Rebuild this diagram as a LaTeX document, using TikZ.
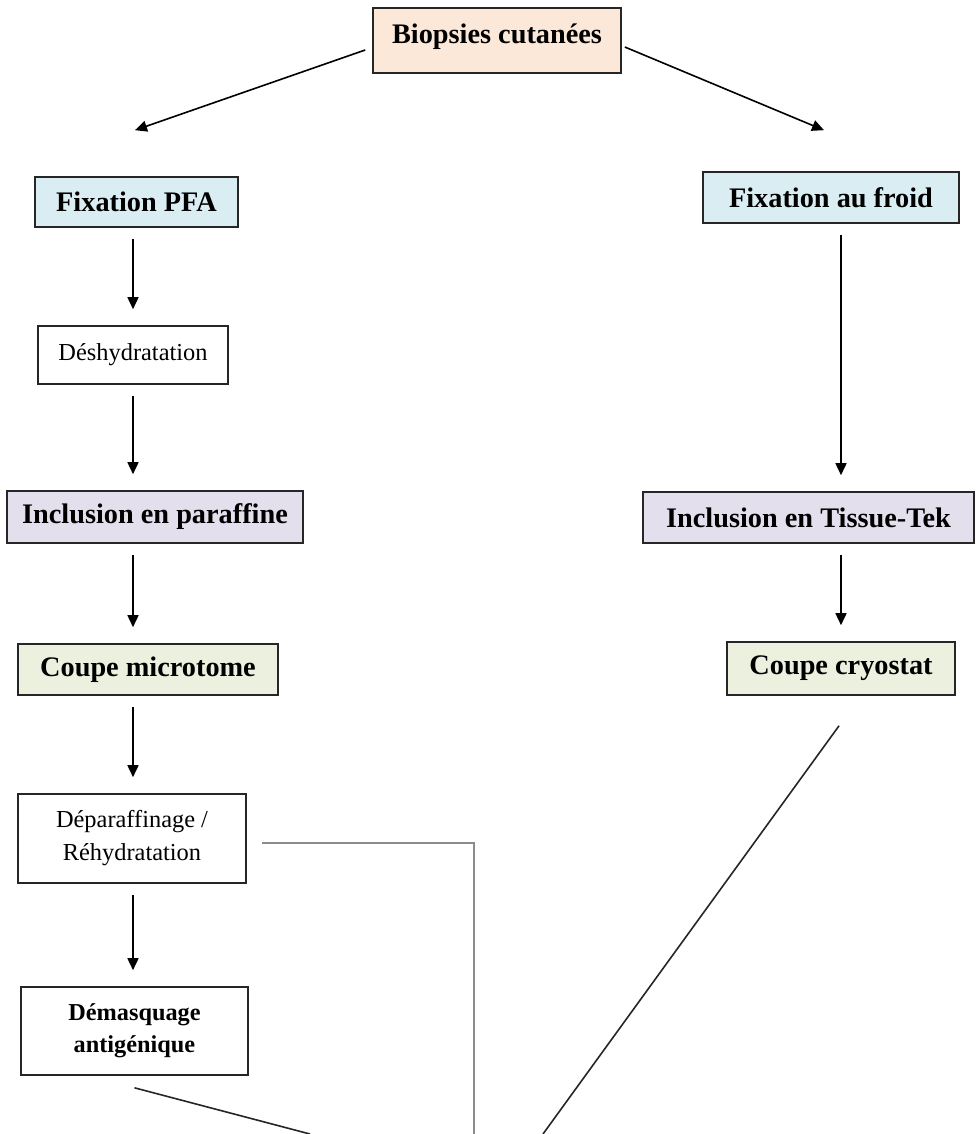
\documentclass[tikz,border=0pt]{standalone}
\usepackage{fontspec}
\setmainfont{Liberation Serif}
\usetikzlibrary{arrows.meta}
\definecolor{peche}{HTML}{FCE8D8}
\definecolor{bleu}{HTML}{DAEDF3}
\definecolor{lavande}{HTML}{E4DFEC}
\definecolor{vert}{HTML}{EBF1DE}
\begin{document}
\begin{tikzpicture}[x=1pt,y=-1pt,
  boite/.style={draw=black!85, line width=1.6pt, inner sep=0pt, align=center},
  gras/.style={font=\fontsize{28.3}{34}\selectfont\bfseries},
  petit/.style={font=\fontsize{24.4}{33}\selectfont},
  fleche/.style={-{Triangle[length=12pt,width=11pt]}, line width=1.6pt},
  descente/.style={fleche, shorten <=11pt, shorten >=16pt},
  trait/.style={line width=1.6pt, black!85},
  gris/.style={line width=1.8pt, black!45}]
\useasboundingbox (0,0) rectangle (975,1134);

\node[boite, fill=peche, gras, minimum width=248pt, minimum height=65pt, text depth=14pt] (biopsies) at (497,40.5) {Biopsies cutanées};

\node[boite, fill=bleu, gras, minimum width=203pt, minimum height=50pt] (pfa) at (136.5,202) {Fixation PFA};
\node[boite, fill=white, petit, minimum width=190pt, minimum height=58pt] (deshyd) at (133,355) {Déshydratation};
\node[boite, fill=lavande, gras, minimum width=296pt, minimum height=52pt] (paraffine) at (155,517) {Inclusion en paraffine};
\node[boite, fill=vert, gras, minimum width=260pt, minimum height=51pt] (microtome) at (148,669.5) {Coupe microtome};
\node[boite, fill=white, petit, minimum width=228pt, minimum height=89pt] (deparaf) at (132,838.5) {Déparaffinage /\\Réhydratation};
\node[boite, fill=white, font=\fontsize{24.3}{32}\selectfont\bfseries, minimum width=227pt, minimum height=88pt] (demasq) at (134.5,1031) {Démasquage\\antigénique};

\node[boite, fill=bleu, gras, minimum width=256pt, minimum height=51pt] (froid) at (831,197.5) {Fixation au froid};
\node[boite, fill=lavande, gras, minimum width=331pt, minimum height=51pt] (tissutek) at (808.5,517.5) {Inclusion en Tissue-Tek};
\node[boite, fill=vert, gras, minimum width=228pt, minimum height=53pt] (cryostat) at (841,668.5) {Coupe cryostat};

\coordinate (finD) at (310,1134);
\coordinate (finG) at (474,1134);
\coordinate (finC) at (543,1134);

\draw[fleche] ([xshift=-7pt,yshift=-9.5pt]biopsies.west) -- ([xshift=-1.5pt,yshift=46pt]pfa.north);
\draw[fleche] ([xshift=3pt,yshift=-6.5pt]biopsies.east) -- ([xshift=-7pt,yshift=41pt]froid.north);

\draw[descente] (pfa.south -| deshyd.north) -- (deshyd.north);
\draw[descente] (deshyd.south) -- (deshyd.south |- paraffine.north);
\draw[descente] (paraffine.south -| deshyd.south) -- (microtome.north -| deshyd.south);
\draw[descente] (microtome.south -| deshyd.south) -- (deparaf.north -| deshyd.south);
\draw[descente] (deparaf.south -| deshyd.south) -- (demasq.north -| deshyd.south);

\draw[descente] (froid.south -| cryostat.north) -- (tissutek.north -| cryostat.north);
\draw[descente] (tissutek.south -| cryostat.north) -- (cryostat.north);

\draw[trait] ([yshift=-12pt]demasq.south) -- (finD);
\draw[gris] ([xshift=15pt,yshift=-4.5pt]deparaf.east) -| (finG);
\draw[trait] ([xshift=-2pt,yshift=-30pt]cryostat.south) -- (finC);
\end{tikzpicture}
\end{document}
